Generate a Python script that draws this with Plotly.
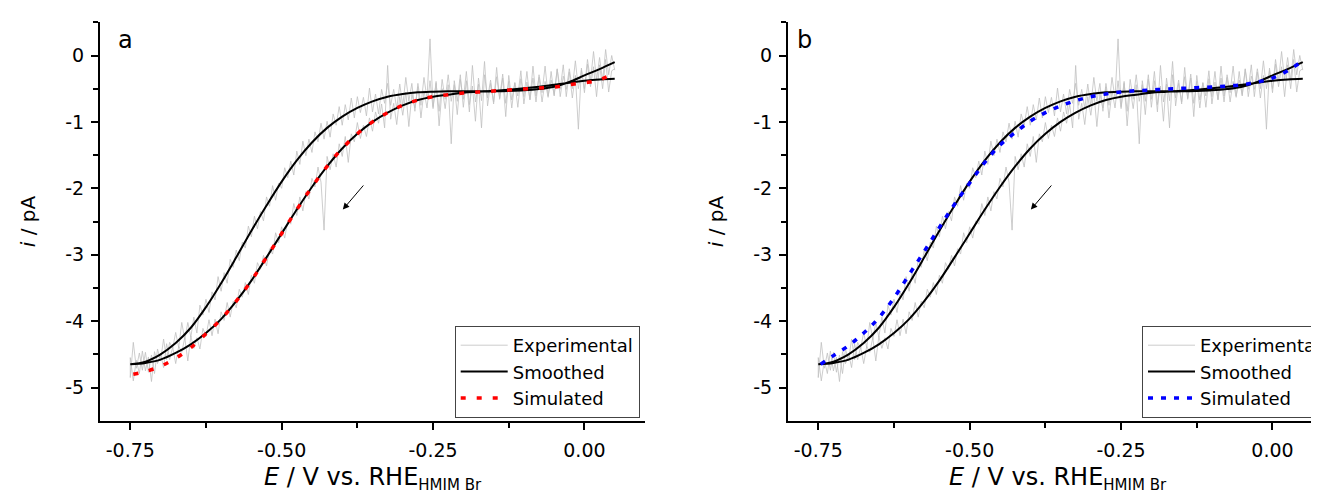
import plotly.graph_objects as go

# ---------------- data ----------------
E_SMOOTH = [-0.75, -0.725, -0.70, -0.675, -0.65, -0.625, -0.60, -0.575, -0.55, -0.525,
            -0.50, -0.475, -0.45, -0.425, -0.40, -0.375, -0.35, -0.325, -0.30, -0.275,
            -0.25, -0.225, -0.20, -0.175, -0.15, -0.125, -0.10, -0.075, -0.05, -0.025,
            0.0, 0.025, 0.05]
# cathodic (forward) sweep, listed by ascending E
SMOOTH_FWD = [-4.65, -4.63, -4.58, -4.48, -4.35, -4.18, -3.97, -3.70, -3.39, -3.04,
              -2.68, -2.32, -1.98, -1.67, -1.40, -1.18, -1.00, -0.86, -0.75, -0.67,
              -0.62, -0.59, -0.56, -0.545, -0.53, -0.515, -0.495, -0.47, -0.44, -0.41,
              -0.38, -0.36, -0.35]
# anodic (return) sweep
SMOOTH_REV = [-4.65, -4.61, -4.50, -4.33, -4.10, -3.79, -3.43, -3.04, -2.64, -2.26,
              -1.90, -1.58, -1.31, -1.09, -0.92, -0.79, -0.69, -0.62, -0.58, -0.555,
              -0.545, -0.54, -0.54, -0.54, -0.54, -0.535, -0.525, -0.505, -0.47, -0.40,
              -0.30, -0.205, -0.10]

E_EXP = [round(-0.75 + 0.005 * k, 3) for k in range(161)]
EXP_FWD = [-4.55, -4.90, -4.59, -4.79, -4.45, -4.75, -4.54, -4.91, -4.46, -4.64,
           -4.49, -4.70, -4.34, -4.58, -4.39, -4.64, -4.38, -4.47, -4.25, -4.60,
           -4.23, -4.41, -4.25, -4.42, -4.11, -4.23, -3.98, -4.22, -3.97, -4.19,
           -3.86, -3.99, -3.72, -3.94, -3.70, -3.80, -3.52, -3.64, -3.42, -3.60,
           -3.31, -3.43, -3.12, -3.22, -3.01, -3.17, -2.91, -2.99, -2.67, -2.82,
           -2.58, -2.75, -2.49, -2.54, -2.23, -2.41, -2.13, -2.34, -2.05, -2.16,
           -1.85, -1.98, -1.68, -1.91, -2.63, -1.52, -1.72, -1.48, -1.68, -1.33,
           -1.52, -1.22, -1.61, -1.18, -1.30, -1.01, -1.25, -1.05, -1.22, -0.94,
           -1.14, -0.85, -1.02, -0.73, -1.09, -0.15, -0.96, -0.72, -1.04, -0.62,
           -0.90, -0.55, -1.07, -0.58, -0.79, -0.47, -0.94, -0.53, -0.79, -0.38,
           -0.80, -0.39, -1.06, -0.50, -0.80, -0.44, -1.33, -0.38, -0.69, -0.29,
           -0.78, -0.38, -0.85, -0.15, -0.70, -0.43, -1.09, -0.29, -0.64, -0.37,
           -0.73, -0.18, -0.66, -0.34, -0.92, -0.30, -0.67, -0.41, -0.78, -0.35,
           -0.62, -0.24, -0.67, -0.34, -0.70, -0.29, -0.56, -0.16, -0.61, -0.37,
           -0.59, -0.21, -0.51, -0.14, -0.62, -0.25, -0.64, -0.30, -1.11, -0.19,
           -0.56, -0.13, -0.47, -0.17, -0.62, -0.14, -0.50, -0.06, -0.55, -0.23,
           -0.20]
EXP_REV = [-4.85, -4.32, -4.71, -4.48, -4.74, -4.47, -4.77, -4.51, -4.79, -4.42,
           -4.60, -4.27, -4.58, -4.32, -4.41, -4.17, -4.40, -4.02, -4.28, -4.02,
           -4.24, -3.94, -4.18, -3.76, -3.91, -3.67, -3.87, -3.56, -3.68, -3.33,
           -3.55, -3.27, -3.43, -3.07, -3.19, -2.93, -3.09, -2.81, -2.90, -2.57,
           -2.73, -2.42, -2.61, -2.35, -2.49, -2.13, -2.27, -1.96, -2.18, -1.92,
           -2.00, -1.69, -1.84, -1.59, -1.80, -1.44, -1.64, -1.29, -1.51, -1.26,
           -1.46, -1.15, -1.30, -1.02, -1.26, -0.99, -1.23, -0.88, -1.05, -0.77,
           -1.05, -0.74, -0.97, -0.64, -0.94, -0.62, -0.86, -0.63, -0.91, -0.49,
           -0.85, -0.58, -0.88, -0.51, -0.72, -0.42, -0.75, -0.51, -0.80, -0.43,
           -0.76, -0.33, -0.69, -0.42, -0.84, -0.42, -0.75, -0.33, -0.65, 0.25,
           -0.77, -0.42, -0.84, -0.36, -0.66, -0.29, -0.69, -0.44, -0.89, -0.36,
           -0.66, -0.24, -0.74, -0.46, -0.99, -0.34, -0.68, -0.09, -0.76, -0.42,
           -0.70, -0.32, -0.64, -0.28, -0.72, -0.39, -0.79, -0.41, -0.61, -0.23,
           -0.73, -0.40, -0.66, -0.16, -0.61, -0.33, -0.70, -0.39, -0.63, -0.24,
           -0.61, -0.20, -0.62, -0.31, -0.51, -0.20, -0.50, -0.08, -0.50, -0.22,
           -0.50, -0.06, -0.38, 0.06, -0.37, -0.03, -0.38, 0.09, -0.29, 0.00,
           -0.22]

SIM_A_E = [-0.745, -0.725, -0.70, -0.675, -0.65, -0.625, -0.60, -0.575, -0.55, -0.525,
           -0.50, -0.475, -0.45, -0.425, -0.40, -0.375, -0.35, -0.325, -0.30, -0.275,
           -0.25, -0.225, -0.20, -0.175, -0.15, -0.125, -0.10, -0.075, -0.05, -0.025,
           0.0, 0.02, 0.04]
SIM_A_I = [-4.80, -4.76, -4.68, -4.56, -4.40, -4.19, -3.97, -3.70, -3.39, -3.04,
           -2.68, -2.32, -1.98, -1.67, -1.40, -1.18, -1.00, -0.86, -0.75, -0.67,
           -0.62, -0.59, -0.565, -0.55, -0.535, -0.52, -0.505, -0.49, -0.475, -0.44,
           -0.41, -0.38, -0.31]

SIM_B_E = [-0.746, -0.725, -0.70, -0.675, -0.65, -0.625, -0.60, -0.575, -0.55, -0.525,
           -0.50, -0.475, -0.45, -0.425, -0.40, -0.375, -0.35, -0.325, -0.30, -0.275,
           -0.25, -0.225, -0.20, -0.175, -0.15, -0.125, -0.10, -0.075, -0.05, -0.025,
           0.0, 0.025, 0.045]
SIM_B_I = [-4.65, -4.52, -4.37, -4.18, -3.95, -3.65, -3.30, -2.95, -2.59, -2.24,
           -1.92, -1.61, -1.35, -1.16, -0.99, -0.86, -0.76, -0.68, -0.62, -0.58,
           -0.55, -0.53, -0.52, -0.505, -0.495, -0.485, -0.475, -0.46, -0.44, -0.40,
           -0.34, -0.23, -0.11]

X_TICKS = [-0.75, -0.50, -0.25, 0.00]
X_TICK_TEXT = ["-0.75", "-0.50", "-0.25", "0.00"]
Y_TICKS = [0, -1, -2, -3, -4, -5]
Y_TICK_TEXT = ["0", "-1", "-2", "-3", "-4", "-5"]

# ---------------- figure ----------------
FONT = "DejaVu Sans, Liberation Sans, Arial, sans-serif"
W, H = 1319, 493

exp_x = E_EXP[::-1] + E_EXP
exp_y = EXP_FWD[::-1] + EXP_REV
sm_x = E_SMOOTH[::-1] + E_SMOOTH
sm_y = SMOOTH_FWD[::-1] + SMOOTH_REV

fig = go.Figure()
panels = [("x", "y", "legend", SIM_A_E, SIM_A_I, "#ff0000", "5px,11px"),
          ("x2", "y2", "legend2", SIM_B_E, SIM_B_I, "#0000ff", "5px,8px")]
for xa, ya, lg, se, si, col, dash in panels:
    fig.add_trace(go.Scatter(x=exp_x, y=exp_y, mode="lines", name="Experimental",
                             line=dict(color="#c0c0c0", width=0.8),
                             xaxis=xa, yaxis=ya, legend=lg))
    fig.add_trace(go.Scatter(x=sm_x, y=sm_y, mode="lines", name="Smoothed",
                             line=dict(color="black", width=2, shape="spline"),
                             xaxis=xa, yaxis=ya, legend=lg))
    fig.add_trace(go.Scatter(x=se, y=si, mode="lines", name="Simulated",
                             line=dict(color=col, width=3.5, dash=dash, shape="spline"),
                             xaxis=xa, yaxis=ya, legend=lg))

ydom = [(H - 412.7) / H, (H - 14.3) / H]
common_x = dict(showline=True, linecolor="black", linewidth=2, ticks="outside",
                ticklen=7, tickwidth=2, tickcolor="black", showgrid=False, zeroline=False,
                tickvals=X_TICKS, ticktext=X_TICK_TEXT, ticklabelstandoff=4,
                tickfont=dict(family=FONT, size=19, color="black"),
                minor=dict(tickvals=[-0.625, -0.375, -0.125], ticks="outside",
                           ticklen=5, tickwidth=2, tickcolor="black", showgrid=False),
                title=dict(text="<i>E</i> / V vs. RHE<sub><span style='font-size:15px'>HMIM Br</span></sub>",
                           font=dict(family=FONT, size=24, color="black"), standoff=9))
common_y = dict(showline=True, linecolor="black", linewidth=2, ticks="outside",
                ticklen=7, tickwidth=2, tickcolor="black", showgrid=False, zeroline=False,
                range=[-5.5, 0.5], tickvals=Y_TICKS, ticktext=Y_TICK_TEXT, ticklabelstandoff=3,
                tickfont=dict(family=FONT, size=19, color="black"),
                minor=dict(tickvals=[0.5, -0.5, -1.5, -2.5, -3.5, -4.5], ticks="outside",
                           ticklen=5, tickwidth=2, tickcolor="black", showgrid=False),
                title=dict(text="<i>i</i> / pA",
                           font=dict(family=FONT, size=20, color="black"), standoff=24))

legend_common = dict(font=dict(family=FONT, size=18, color="black"), bgcolor="white",
                     bordercolor="#444444", borderwidth=1, xanchor="left", yanchor="top",
                     tracegroupgap=0, itemwidth=47)

fig.update_layout(
    width=W, height=H, margin=dict(l=0, r=0, t=0, b=0),
    paper_bgcolor="white", plot_bgcolor="white",
    font=dict(family=FONT, color="black"),
    xaxis=dict(domain=[92 / W, 637 / W], range=[-0.8, 0.1], anchor="y", **common_x),
    yaxis=dict(domain=ydom, anchor="x", **common_y),
    xaxis2=dict(domain=[780 / W, 1.0], range=[-0.8, 0.09], anchor="y2", **common_x),
    yaxis2=dict(domain=ydom, anchor="x2", **common_y),
    legend=dict(x=446.7 / W, y=(H - 318) / H, **legend_common),
    legend2=dict(x=1134.3 / W, y=(H - 318) / H, **legend_common),
    showlegend=True,
)

for xr, yr, lab, px in [("x", "y", "a", 117), ("x2", "y2", "b", 797)]:
    fig.add_annotation(text=lab, xref="paper", yref="paper", x=px / W, y=(H - 32) / H,
                       showarrow=False, font=dict(family=FONT, size=24, color="black"),
                       xanchor="center", yanchor="middle")
    fig.add_annotation(x=-0.399, y=-2.32, ax=-0.363, ay=-1.935, xref=xr, yref=yr,
                       axref=xr, ayref=yr, text="", showarrow=True, arrowhead=2,
                       arrowsize=1.3, arrowwidth=1, arrowcolor="black")

fig.write_html("out.html")
